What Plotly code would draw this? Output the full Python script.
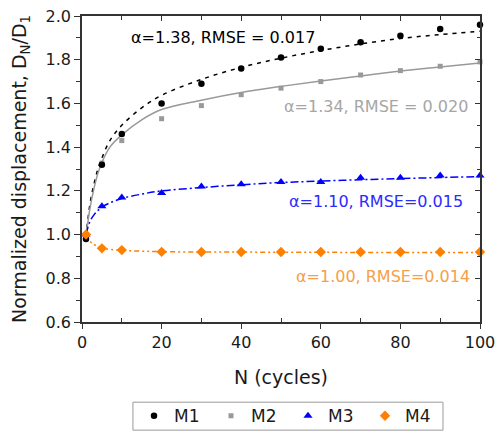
import plotly.graph_objects as go

# ---- data ----
N = [1, 5, 10, 20, 30, 40, 50, 60, 70, 80, 90, 100]
M1 = [0.98, 1.32, 1.46, 1.60, 1.69, 1.76, 1.81, 1.85, 1.88, 1.91, 1.94, 1.96]
M2 = [1.00, 1.327, 1.43, 1.53, 1.59, 1.64, 1.67, 1.70, 1.73, 1.75, 1.77, 1.79]
M3 = [1.00, 1.13, 1.17, 1.19, 1.22, 1.23, 1.24, 1.24, 1.26, 1.26, 1.27, 1.27]
M4 = [1.00, 0.937, 0.929, 0.921, 0.92, 0.92, 0.92, 0.92, 0.92, 0.92, 0.92, 0.92]

N_fit = [1, 2, 3, 4, 5, 7, 10, 15, 20, 30, 40, 50, 60, 70, 80, 90, 100]
M1_fit = [0.99, 1.14, 1.23, 1.30, 1.35, 1.43, 1.50, 1.58, 1.637, 1.71, 1.765, 1.807, 1.842, 1.872, 1.897, 1.915, 1.93]
M2_fit = [0.99, 1.12, 1.21, 1.28, 1.33, 1.40, 1.456, 1.525, 1.572, 1.615, 1.65, 1.678, 1.703, 1.726, 1.748, 1.767, 1.785]
M3_fit = [1.00, 1.06, 1.09, 1.11, 1.125, 1.145, 1.165, 1.185, 1.20, 1.215, 1.228, 1.238, 1.245, 1.251, 1.256, 1.261, 1.265]
M4_fit = [1.00, 0.97, 0.955, 0.946, 0.94, 0.932, 0.928, 0.924, 0.922, 0.92, 0.92, 0.919, 0.919, 0.918, 0.918, 0.918, 0.918]

labels = ["M1", "M2", "M3", "M4"]
fit_texts = ["α=1.38, RMSE = 0.017", "α=1.34, RMSE = 0.020",
             "α=1.10, RMSE=0.015", "α=1.00, RMSE=0.014"]

FONT = "DejaVu Sans"
fig = go.Figure()

# fitted curves
fig.add_trace(go.Scatter(x=N_fit, y=M1_fit, mode="lines", line_shape="spline",
                         line=dict(color="black", width=1.5, dash="4px,5px"), showlegend=False))
fig.add_trace(go.Scatter(x=N_fit, y=M2_fit, mode="lines", line_shape="spline",
                         line=dict(color="#999999", width=1.5), showlegend=False))
fig.add_trace(go.Scatter(x=N_fit, y=M3_fit, mode="lines", line_shape="spline",
                         line=dict(color="#0000ff", width=1.5, dash="8px,3px,2px,3px"), showlegend=False))
fig.add_trace(go.Scatter(x=N_fit, y=M4_fit, mode="lines", line_shape="spline",
                         line=dict(color="#ff8000", width=1.5, dash="5px,3px,2px,3px,2px,3px"), showlegend=False))

# data markers
fig.add_trace(go.Scatter(x=N, y=M2, mode="markers", name=labels[1], legendrank=2,
                         marker=dict(symbol="square", size=5, color="#999999"), cliponaxis=False))
fig.add_trace(go.Scatter(x=N, y=M1, mode="markers", name=labels[0], legendrank=1,
                         marker=dict(symbol="circle", size=6.5, color="black"), cliponaxis=False))
fig.add_trace(go.Scatter(x=N, y=M3, mode="markers", name=labels[2], legendrank=3,
                         marker=dict(symbol="triangle-up", size=8, color="#0000ff"), cliponaxis=False))
fig.add_trace(go.Scatter(x=N, y=M4, mode="markers", name=labels[3], legendrank=4,
                         marker=dict(symbol="diamond", size=8, color="#ff8000"), cliponaxis=False))

# empty trace to activate top/right mirror axes
fig.add_trace(go.Scatter(x=[], y=[], xaxis="x2", yaxis="y2", showlegend=False, hoverinfo="skip"))

AX = "#333333"
fig.update_layout(
    width=496, height=433,
    margin=dict(l=82, r=16, t=16, b=111, autoexpand=False),
    paper_bgcolor="white", plot_bgcolor="white",
    font=dict(family=FONT, size=16, color="#1a1a1a"),
    legend=dict(orientation="h", x=0.5176, xanchor="center", y=-0.3077, yanchor="middle",
                bgcolor="rgba(0,0,0,0)", borderwidth=0, font=dict(size=17),
                entrywidth=32, itemwidth=30, tracegroupgap=0),
    xaxis=dict(range=[0, 100], tickvals=[0, 20, 40, 60, 80, 100], ticks="outside", ticklen=5,
               tickcolor=AX, showline=True, linecolor=AX, linewidth=1.5,
               showgrid=False, zeroline=False, automargin=False,
               minor=dict(tickvals=[10, 30, 50, 70, 90], ticks="inside", ticklen=4, tickcolor=AX),
               title=dict(text="N (cycles)", standoff=20)),
    yaxis=dict(range=[0.6, 2.0], tickvals=[0.6, 0.8, 1.0, 1.2, 1.4, 1.6, 1.8, 2.0],
               tickformat=".1f", ticks="outside", ticklen=6, tickcolor=AX,
               showline=True, linecolor=AX, linewidth=1.5, showgrid=False, zeroline=False,
               automargin=False,
               minor=dict(tickvals=[0.7, 0.9, 1.1, 1.3, 1.5, 1.7, 1.9], ticks="outside", ticklen=4, tickcolor=AX),
               title=dict(text="Normalized displacement, D<sub>N</sub>/D<sub>1</sub>", standoff=14)),
    xaxis2=dict(range=[0, 100], overlaying="x", side="top", tickvals=[0, 20, 40, 60, 80, 100],
                ticks="inside", ticklen=5, tickcolor=AX, showticklabels=False, automargin=False,
                showline=True, linecolor=AX, linewidth=1.5, showgrid=False, zeroline=False,
                minor=dict(tickvals=[10, 30, 50, 70, 90], ticks="inside", ticklen=4, tickcolor=AX)),
    yaxis2=dict(range=[0.6, 2.0], overlaying="y", side="right", tickvals=[0.6, 0.8, 1.0, 1.2, 1.4, 1.6, 1.8, 2.0],
                ticks="inside", ticklen=5, tickcolor=AX, showticklabels=False, automargin=False,
                showline=True, linecolor=AX, linewidth=1.5, showgrid=False, zeroline=False,
                minor=dict(tickvals=[0.7, 0.9, 1.1, 1.3, 1.5, 1.7, 1.9], ticks="inside", ticklen=3, tickcolor=AX)),
)

# legend frame
fig.add_shape(type="rect", xref="paper", yref="paper", x0=0.128, x1=0.907, y0=-0.3535, y1=-0.262,
              line=dict(color="#9a9a9a", width=1), fillcolor="rgba(0,0,0,0)", layer="below")

fig.add_annotation(x=11.8, y=1.90, xref="x", yref="y", text=fit_texts[0], showarrow=False,
                   xanchor="left", yanchor="middle", font=dict(color="black", size=16))
fig.add_annotation(x=97.5, y=1.585, xref="x", yref="y", text=fit_texts[1], showarrow=False,
                   xanchor="right", yanchor="middle", font=dict(color="#a6a6a6", size=16))
fig.add_annotation(x=96.2, y=1.15, xref="x", yref="y", text=fit_texts[2], showarrow=False,
                   xanchor="right", yanchor="middle", font=dict(color="#2b2bff", size=16))
fig.add_annotation(x=98.0, y=0.806, xref="x", yref="y", text=fit_texts[3], showarrow=False,
                   xanchor="right", yanchor="middle", font=dict(color="#f5a04a", size=16))

fig.write_html("out.html", config={"displayModeBar": False},
               post_script="document.body.style.margin='0';")
